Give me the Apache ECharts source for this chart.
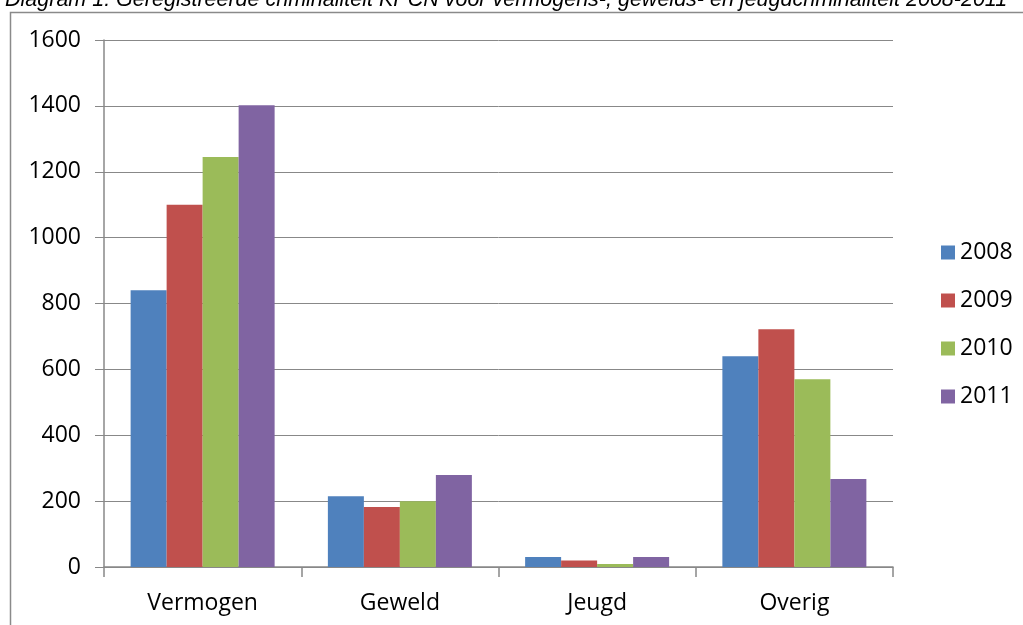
<!DOCTYPE html>
<html><head><meta charset="utf-8">
<script src="https://cdn.jsdelivr.net/npm/echarts@6/dist/echarts.min.js"></script>
<style>html,body{margin:0;padding:0;background:#fff}#c{width:1023px;height:625px}</style>
</head><body><div id="c"></div>
<script>
const categories = ['Vermogen', 'Geweld', 'Jeugd', 'Overig'];
const years = ['2008', '2009', '2010', '2011'];
const v2008 = [840, 215, 30, 640];
const v2009 = [1100, 182, 20, 722];
const v2010 = [1245, 200, 9, 570];
const v2011 = [1402, 279, 30, 267];
const yTicks = [0, 200, 400, 600, 800, 1000, 1200, 1400, 1600];
const colors = ['#4F81BD', '#C0504D', '#9BBB59', '#8064A2'];
const seriesData = [v2008, v2009, v2010, v2011];

const chart = echarts.init(document.getElementById('c'));
chart.setOption({
  animation: false,
  color: colors,
  title: {
    text: 'Diagram 1: Geregistreerde criminaliteit KPCN voor vermogens-, gewelds- en jeugdcriminaliteit 2008-2011',
    left: 0, top: -16,
    textStyle: {fontFamily: 'Liberation Sans', fontStyle: 'italic', fontWeight: 'normal', fontSize: 21.5, color: '#000'}
  },
  graphic: [{
    type: 'rect', shape: {x: 10.5, y: 12.5, width: 1030, height: 640},
    style: {fill: 'none', stroke: '#8a8a8a', lineWidth: 1.5}, silent: true
  }],
  legend: {
    orient: 'vertical', left: 936, top: 236, itemGap: 25,
    itemWidth: 14, itemHeight: 14, icon: 'rect',
    textStyle: {fontFamily: 'Open Sans', fontSize: 23, color: '#000', padding: [0, 0, 0, 0]},
    data: years
  },
  grid: {left: 104, right: 130, top: 40, bottom: 58},
  xAxis: {
    type: 'category', data: categories,
    axisLine: {lineStyle: {color: '#888', width: 1.5}},
    axisTick: {show: true, length: 10, lineStyle: {color: '#888', width: 1.5}},
    axisLabel: {fontFamily: 'Open Sans', fontSize: 23, color: '#000', margin: 25}
  },
  yAxis: {
    type: 'value', min: 0, max: 1600, interval: 200,
    axisLine: {show: true, lineStyle: {color: '#888', width: 1.5}},
    axisTick: {show: true, length: 9, lineStyle: {color: '#888', width: 1}},
    splitLine: {lineStyle: {color: '#888', width: 1}},
    axisLabel: {fontFamily: 'Open Sans', fontSize: 23, color: '#000', margin: 23,
      formatter: v => yTicks.includes(v) ? String(v) : ''}
  },
  series: years.map((y, i) => ({
    name: y, type: 'bar', data: seriesData[i],
    barGap: '0%', barCategoryGap: '27%',
    itemStyle: {color: colors[i]}
  }))
});
</script>
</body></html>
